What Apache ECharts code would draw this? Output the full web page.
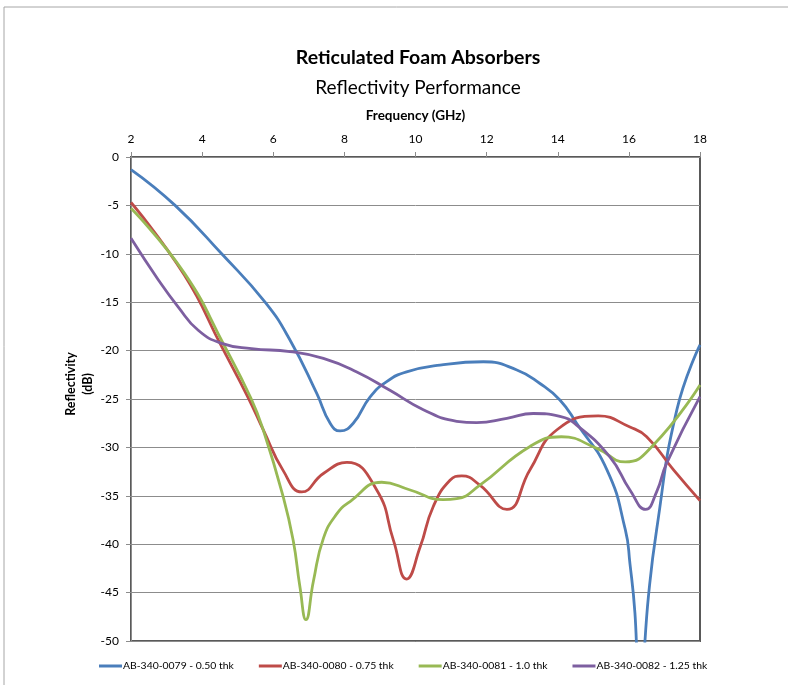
<!DOCTYPE html>
<html><head><meta charset="utf-8">
<script src="https://cdn.jsdelivr.net/npm/echarts@6/dist/echarts.min.js"></script>
<style>html,body{margin:0;padding:0;background:#fff}#c{width:788px;height:685px}</style>
</head><body><div id="c"></div>
<script>
var seriesNames = ['AB-340-0079 - 0.50 thk','AB-340-0080 - 0.75 thk','AB-340-0081 - 1.0 thk','AB-340-0082 - 1.25 thk'];
var xTicks = [2,4,6,8,10,12,14,16,18];
var yTicks = [0,-5,-10,-15,-20,-25,-30,-35,-40,-45,-50];

var freq0079 = [2, 3.24, 4.55, 5.77, 6.47, 7.22, 7.6, 7.88, 8.25, 8.72, 9.19, 9.75, 10.69, 11.91, 12.85, 13.5, 14.06, 14.53, 15.38, 15.9, 16.03, 16.17, 16.3, 16.55, 16.78, 17.35, 18];
var val0079  = [-1.3, -5, -10, -15, -18.9, -24.4, -27.5, -28.3, -27.5, -24.8, -23.2, -22.2, -21.5, -21.15, -22.0, -23.4, -25.1, -27.5, -32.3, -38.5, -42, -47.1, -56, -45.4, -38.5, -26.1, -19.4];

var freq0080 = [2, 3.5, 4.55, 5.3, 5.72, 6.28, 6.8, 7.41, 8.07, 8.91, 9.38, 9.75, 10.13, 10.5, 10.97, 11.3, 11.81, 12.57, 13.22, 13.97, 15.14, 16.03, 16.5, 17.25, 18];
var val0080  = [-4.7, -12.2, -19.6, -24.9, -28.2, -32.4, -34.6, -32.7, -31.55, -34.4, -39.6, -43.6, -40.3, -36.1, -33.4, -32.95, -33.9, -36.4, -32.3, -28.2, -26.75, -27.9, -28.9, -32.3, -35.5];

var freq0081 = [2, 3.5, 4.64, 5.37, 5.72, 6.28, 6.56, 6.75, 6.92, 7.13, 7.41, 7.78, 8.16, 9.05, 9.85, 10.78, 11.16, 11.81, 13.22, 14.1, 15.1, 15.9, 16.69, 18];
var val0081  = [-5.3, -12.0, -19.6, -24.9, -28.2, -35.1, -39.6, -44.4, -47.8, -43.8, -39.4, -36.9, -35.6, -33.6, -34.4, -35.4, -35.3, -33.9, -29.9, -28.9, -30.1, -31.5, -29.75, -23.55];

var freq0082 = [2, 2.77, 3.33, 3.89, 4.55, 5.39, 6.47, 7.41, 8.35, 9.28, 10.22, 11.16, 11.72, 12.57, 13.31, 14.06, 14.53, 15.47, 16.03, 16.47, 16.78, 17.06, 18];
var val0082  = [-8.4, -12.7, -15.5, -17.9, -19.25, -19.8, -20.1, -20.8, -22.2, -24.1, -26.1, -27.3, -27.45, -27.0, -26.5, -26.8, -27.7, -31, -34.4, -36.4, -34.6, -31.65, -24.75];

var colors = ['#4a7ebb','#be4b48','#98b954','#7d5fa0'];
function pairs(f,v){return f.map(function(x,i){return [x,v[i]];});}
var allData = [pairs(freq0079,val0079),pairs(freq0080,val0080),pairs(freq0081,val0081),pairs(freq0082,val0082)];

var FONT = 'Lato';
var chart = echarts.init(document.getElementById('c'));
chart.setOption({
  animation:false,
  color: colors,
  title:[
    {text:'Reticulated Foam Absorbers', left:413, top:43, textAlign:'center',
     textStyle:{fontFamily:FONT,fontWeight:'bold',fontSize:19.5,color:'#000'}},
    {text:'Reflectivity Performance', left:413, top:73, textAlign:'center',
     textStyle:{fontFamily:FONT,fontWeight:'normal',fontSize:19,color:'#000'}}
  ],
  graphic:[
    {type:'rect', shape:{x:4,y:7,width:900,height:900}, style:{fill:'none',stroke:'#a6a6a6',lineWidth:1}, silent:true},
    {type:'text', x:79, y:384, rotation:Math.PI/2,
     style:{text:'Reflectivity\n(dB)', fontFamily:FONT, fontWeight:'bold', fontSize:12.5, fill:'#000', textAlign:'center', textVerticalAlign:'middle', lineHeight:17}}
  ],
  legend:{
    left:99, top:661, padding:0, itemWidth:23, itemHeight:3, itemGap:25, icon:'rect',
    textStyle:{fontFamily:FONT,fontSize:10.4,color:'#000',padding:[0,0,0,-4]},
    data: seriesNames
  },
  grid:{left:131, right:88, top:157, bottom:44, show:true, borderColor:'#595959', borderWidth:2, backgroundColor:'transparent'},
  xAxis:{
    type:'value', position:'top', min:xTicks[0], max:xTicks[xTicks.length-1], interval:2,
    name:'Frequency (GHz)', nameLocation:'middle', nameGap:34,
    nameTextStyle:{fontFamily:FONT,fontWeight:'bold',fontSize:13.5,color:'#000'},
    axisLine:{show:true,lineStyle:{color:'#8c8c8c',width:1}},
    axisTick:{show:true,length:5,lineStyle:{color:'#8c8c8c'}},
    axisLabel:{fontFamily:FONT,fontSize:12,color:'#000',margin:12},
    splitLine:{show:false}
  },
  yAxis:{
    type:'value', min:-50, max:0, interval:5,
    axisLine:{show:true,lineStyle:{color:'#8c8c8c',width:1}},
    axisTick:{show:true,length:5,lineStyle:{color:'#8c8c8c'}},
    axisLabel:{fontFamily:FONT,fontSize:12,color:'#000',margin:12},
    splitLine:{show:true,lineStyle:{color:'#8c8c8c',width:1}}
  },
  series: seriesNames.map(function(n,i){
    return {name:n, type:'line', data:allData[i], smooth:0.5, showSymbol:false, symbol:'none', clip:true,
            lineStyle:{width:2.8,color:colors[i]}, itemStyle:{color:colors[i]}};
  })
});
</script></body></html>
